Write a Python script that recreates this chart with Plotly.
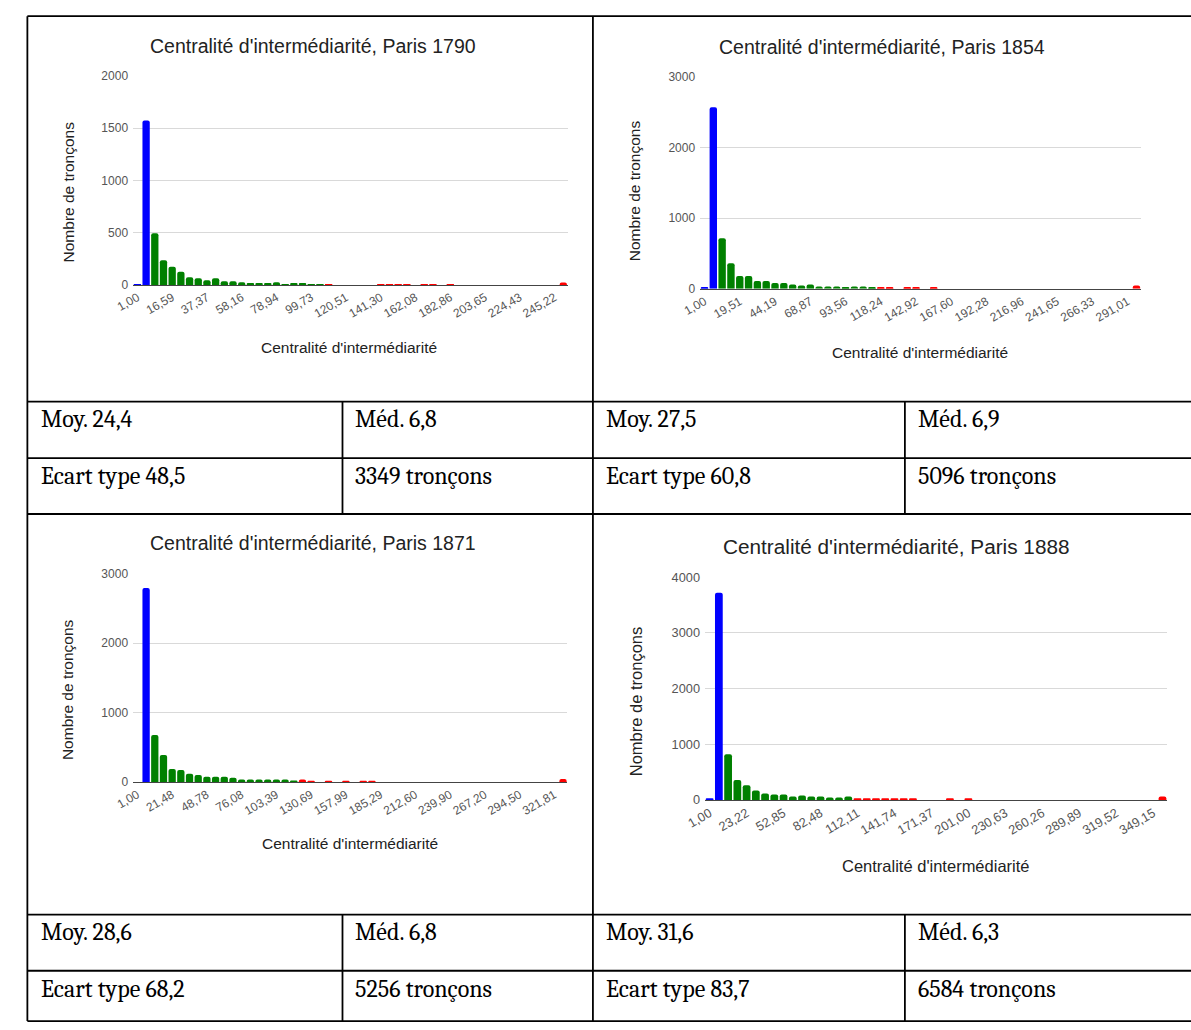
import plotly.graph_objects as go

W, H = 1191, 1030

# ---------------- data ----------------
annees = ["1790", "1854", "1871", "1888"]

effectifs_1790 = [8, 1574, 495, 237, 174, 126, 73, 63, 44, 63, 35, 35, 25, 16, 16, 16, 25, 6, 16, 16,
                  6, 6, 6, 0, 0, 0, 0, 0, 6, 6, 6, 6, 0, 6, 6, 0, 6, 0, 0, 0,
                  0, 0, 0, 0, 0, 0, 0, 0, 0, 22]
effectifs_1854 = [15, 2570, 715, 364, 182, 182, 112, 112, 84, 84, 61, 47, 61, 33, 33, 33, 19, 33, 33, 19,
                  15, 15, 0, 15, 15, 0, 15, 0, 0, 0, 0, 0, 0, 0, 0, 0, 0, 0, 0, 0,
                  0, 0, 0, 0, 0, 0, 0, 0, 0, 47]
effectifs_1871 = [0, 2792, 680, 392, 189, 175, 123, 104, 80, 80, 80, 66, 38, 38, 38, 38, 38, 38, 24, 38,
                  19, 0, 19, 0, 19, 0, 19, 19, 0, 0, 0, 0, 0, 0, 0, 0, 0, 0, 0, 0,
                  0, 0, 0, 0, 0, 0, 0, 0, 0, 47]
effectifs_1888 = [20, 3723, 820, 360, 265, 171, 118, 100, 100, 65, 83, 65, 65, 47, 47, 65, 20, 20, 20, 20,
                  20, 20, 20, 0, 0, 0, 20, 0, 20, 0, 0, 0, 0, 0, 0, 0, 0, 0, 0, 0,
                  0, 0, 0, 0, 0, 0, 0, 0, 0, 65]

# index of the first bucket of each colour class
debut_vert = {"1790": 2, "1854": 2, "1871": 2, "1888": 2}
debut_rouge = {"1790": 22, "1854": 20, "1871": 19, "1888": 16}

etiquettes_1790 = ["1,00", "16,59", "37,37", "58,16", "78,94", "99,73", "120,51", "141,30",
                   "162,08", "182,86", "203,65", "224,43", "245,22"]
etiquettes_1854 = ["1,00", "19,51", "44,19", "68,87", "93,56", "118,24", "142,92", "167,60",
                   "192,28", "216,96", "241,65", "266,33", "291,01"]
etiquettes_1871 = ["1,00", "21,48", "48,78", "76,08", "103,39", "130,69", "157,99", "185,29",
                   "212,60", "239,90", "267,20", "294,50", "321,81"]
etiquettes_1888 = ["1,00", "23,22", "52,85", "82,48", "112,11", "141,74", "171,37", "201,00",
                   "230,63", "260,26", "289,89", "319,52", "349,15"]

y_max = {"1790": 2000, "1854": 3000, "1871": 3000, "1888": 4000}
y_pas = {"1790": 500, "1854": 1000, "1871": 1000, "1888": 1000}

moyennes = ["24,4", "27,5", "28,6", "31,6"]
medianes = ["6,8", "6,9", "6,8", "6,3"]
ecarts_types = ["48,5", "60,8", "68,2", "83,7"]
nb_troncons = [3349, 5096, 5256, 6584]

effectifs = {"1790": effectifs_1790, "1854": effectifs_1854,
             "1871": effectifs_1871, "1888": effectifs_1888}
etiquettes = {"1790": etiquettes_1790, "1854": etiquettes_1854,
              "1871": etiquettes_1871, "1888": etiquettes_1888}

# ---------------- layout geometry (page pixels) ----------------
def px(x):
    return x / W

def py(y):
    return 1 - y / H

panneaux = {
    "1790": dict(plot=(115, 557, 69, 281), titre=(298, 39), xt=(335, 345), yt=(49, 187), k=1.0),
    "1854": dict(plot=(691.7, 1140, 70, 285), titre=(877, 40), xt=(915, 350), yt=(624.5, 186), k=1.0),
    "1871": dict(plot=(115, 556.7, 574, 785.7), titre=(298, 543), xt=(335.5, 848), yt=(49, 692), k=1.0),
    "1888": dict(plot=(696.7, 1166.7, 577.7, 803.7), titre=(891.5, 546), xt=(931.5, 871), yt=(626, 703), k=1.065),
}

FONT = "Arial, Liberation Sans, sans-serif"
BLEU, VERT, ROUGE = "#0000ff", "#008000", "#ff0000"

fig = go.Figure()
layout_axes = {}
annotations = []

for i, an in enumerate(annees, start=1):
    p = panneaux[an]
    vals = effectifs[an]
    couleurs = []
    for j in range(len(vals)):
        if j < debut_vert[an]:
            couleurs.append(BLEU)
        elif j < debut_rouge[an]:
            couleurs.append(VERT)
        else:
            couleurs.append(ROUGE)
    xa = "x" if i == 1 else f"x{i}"
    ya = "y" if i == 1 else f"y{i}"
    fig.add_trace(go.Bar(x=list(range(len(vals))), y=vals, marker=dict(color=couleurs, line_width=0),
                         xaxis=xa, yaxis=ya, showlegend=False, hoverinfo="x+y"))
    x0, x1, y0, y1 = p["plot"]
    k = p["k"]
    layout_axes[f"xaxis{'' if i == 1 else i}"] = dict(
        domain=[px(x0), px(x1)], anchor=ya, range=[-0.5, len(vals) - 0.5],
        tickmode="array", tickvals=list(range(0, len(vals), 4)), ticktext=etiquettes[an],
        tickangle=-30, showgrid=False, zeroline=False, showline=True,
        linecolor="#444", linewidth=1.2, ticks="",
        tickfont=dict(family=FONT, size=12 * k, color="#555"), fixedrange=True)
    layout_axes[f"yaxis{'' if i == 1 else i}"] = dict(
        domain=[py(y1), py(y0)], anchor=xa, range=[0, y_max[an]], dtick=y_pas[an],
        showgrid=True, gridcolor="#d9d9d9", gridwidth=1, zeroline=False, showline=False,
        ticks="", ticklabelstandoff=4,
        tickfont=dict(family=FONT, size=12 * k, color="#555"), fixedrange=True)
    tx, ty = p["titre"]
    annotations.append(dict(text=f"Centralité d'intermédiarité, Paris {an}", x=px(tx), y=py(ty),
                            xref="paper", yref="paper", xanchor="center", yanchor="middle",
                            showarrow=False, font=dict(family=FONT, size=19.5 * k, color="#222")))
    xx, xy = p["xt"]
    annotations.append(dict(text="Centralité d'intermédiarité", x=px(xx), y=py(xy),
                            xref="paper", yref="paper", xanchor="center", yanchor="middle",
                            showarrow=False, font=dict(family=FONT, size=15.5 * k, color="#222")))
    yx, yy = p["yt"]
    annotations.append(dict(text="Nombre de tronçons", x=px(yx), y=py(yy), textangle=-90,
                            xref="paper", yref="paper", xanchor="center", yanchor="middle",
                            showarrow=False, font=dict(family=FONT, size=15.5 * k, color="#222")))

# ---------------- table ----------------
GAUCHE, MILIEU, DROITE = 7.5, 582.7, 1191
SEP_G, SEP_D = 328, 900
HAUT = 8.3
BAS = 1028
lignes_bloc = [(399.5, 456.8, 513.5), (920, 977, BAS)]
shapes = []

def seg(xa_, ya_, xb_, yb_, w=1.8):
    shapes.append(dict(type="line", xref="paper", yref="paper", x0=px(xa_), y0=py(ya_),
                       x1=px(xb_), y1=py(yb_), line=dict(color="#000", width=w)))

seg(GAUCHE, HAUT, DROITE, HAUT)
seg(GAUCHE, HAUT, GAUCHE, BAS)
seg(MILIEU, HAUT, MILIEU, BAS)
for (a, b, c) in lignes_bloc:
    for yv in (a, b, c):
        seg(GAUCHE, yv, DROITE, yv)
    seg(SEP_G, a, SEP_G, c)
    seg(SEP_D, a, SEP_D, c)

SERIF = "Cambria, Liberation Serif, serif"
cellules = []
pos_cols = [(19, 339), (594, 911)]
for idx in range(4):
    bloc = idx // 2
    col = idx % 2
    a, b, c = lignes_bloc[bloc]
    xg, xd = pos_cols[col]
    cellules += [
        (f"Moy. {moyennes[idx]}", xg, a + 18),
        (f"Méd. {medianes[idx]}", xd, a + 18),
        (f"Ecart type {ecarts_types[idx]}", xg, b + 18),
        (f"{nb_troncons[idx]} tronçons", xd, b + 18),
    ]
for (t, x, y) in cellules:
    annotations.append(dict(text=t, x=px(x), y=py(y), xref="paper", yref="paper",
                            xanchor="left", yanchor="middle", showarrow=False,
                            font=dict(family=SERIF, size=24, color="#000")))

fig.update_layout(width=W, height=H, margin=dict(l=0, r=0, t=0, b=0),
                  paper_bgcolor="white", plot_bgcolor="white",
                  bargap=0.16, barcornerradius=2,
                  annotations=annotations, shapes=shapes, **layout_axes)

fig.write_html("out.html", config={"displayModeBar": False},
               post_script="document.body.style.margin='0';document.body.style.overflow='hidden';")
